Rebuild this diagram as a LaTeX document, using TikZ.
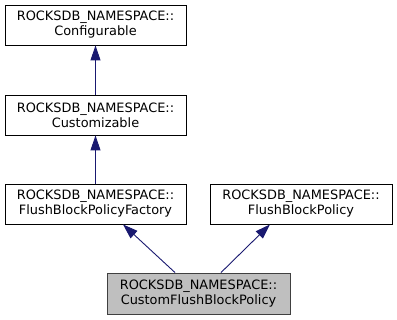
\documentclass[tikz,border=0pt]{standalone}
\usepackage{fontspec}
\setmainfont{DejaVu Sans}
\usetikzlibrary{arrows.meta}
\definecolor{edgeblue}{HTML}{191970}
\definecolor{hlfill}{HTML}{BFBFBF}
\definecolor{hlborder}{HTML}{404040}
\tikzset{
  cls/.style={draw=black, fill=white, line width=0.9pt, minimum width=181pt, minimum height=40pt,
    inner sep=0pt, align=center, font=\fontsize{12.9}{15}\selectfont},
  current/.style={cls, fill=hlfill, draw=hlborder, minimum width=183pt, minimum height=41pt},
  inherit/.style={draw=edgeblue, line width=0.9pt, -{Triangle[length=15pt, width=10pt]}}
}
\begin{document}
\begin{tikzpicture}[x=1pt, y=1pt]
  \useasboundingbox (0,0) rectangle (397,-320);
  \node[cls] (conf) at (95.5,-25) {ROCKSDB\_NAMESPACE::\\Configurable};
  \node[cls] (cust) at (95.5,-115) {ROCKSDB\_NAMESPACE::\\Customizable};
  \node[cls] (fbpf) at (95.5,-204) {ROCKSDB\_NAMESPACE::\\FlushBlockPolicyFactory};
  \node[cls, minimum width=182pt] (fbp) at (301,-204) {ROCKSDB\_NAMESPACE::\\FlushBlockPolicy};
  \node[current] (cfbp) at (198.5,-293.5) {ROCKSDB\_NAMESPACE::\\CustomFlushBlockPolicy};
  \draw[inherit] (cust) -- (conf);
  \draw[inherit] (fbpf) -- (cust);
  \draw[inherit] ([xshift=-23.5pt]cfbp.north) -- ([xshift=27.5pt]fbpf.south);
  \draw[inherit] ([xshift=22.5pt]cfbp.north) -- ([xshift=-31pt]fbp.south);
\end{tikzpicture}
\end{document}
